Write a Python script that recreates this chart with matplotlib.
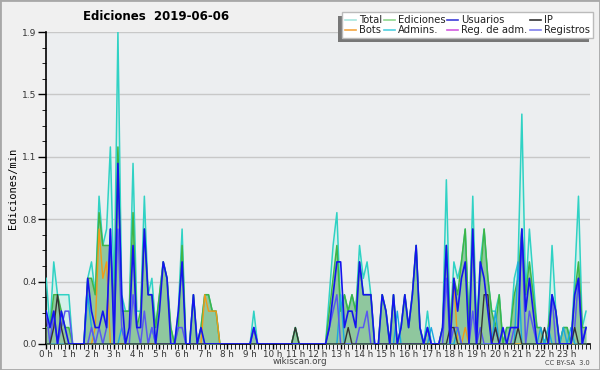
import numpy as np
import matplotlib
matplotlib.use("Agg")
import matplotlib.pyplot as plt
from matplotlib.lines import Line2D
from matplotlib.patches import Rectangle
from matplotlib.ticker import FixedLocator, MultipleLocator

# ediciones por tramo de 10 min (se divide entre 10 -> ediciones/min)
total = [4, 1, 5, 3, 3, 3,   3, 0, 0, 0, 0, 4,   5, 3, 9, 6, 7, 12,  3, 19, 3, 2, 2, 11,
         2, 2, 9, 3, 4, 1,   3, 5, 4, 1, 0, 2,   7, 0, 0, 3, 0, 1,   3, 3, 2, 2, 0, 0,
         0, 0, 0, 0, 0, 0,   0, 2, 0, 0, 0, 0,   0, 0, 0, 0, 0, 0,   1, 0, 0, 0, 0, 0,
         0, 0, 0, 3, 6, 8,   2, 3, 2, 3, 2, 6,   4, 5, 3, 0, 0, 3,   2, 0, 3, 0, 1, 3,
         1, 3, 6, 1, 0, 2,   0, 0, 0, 1, 10, 1,  5, 4, 5, 7, 1, 9,   1, 5, 7, 4, 2, 2,
         3, 0, 1, 1, 4, 5,   14, 3, 7, 4, 1, 1,  0, 1, 6, 2, 0, 1,   1, 0, 4, 9, 1, 2]
ediciones = [1, 1, 3, 3, 2, 1,   1, 0, 0, 0, 0, 4,   4, 3, 8, 6, 6, 6,   2, 12, 2, 2, 2, 8,
             1, 2, 7, 3, 3, 1,   3, 5, 4, 1, 0, 1,   6, 0, 0, 3, 0, 1,   3, 3, 2, 2, 0, 0,
             0, 0, 0, 0, 0, 0,   0, 1, 0, 0, 0, 0,   0, 0, 0, 0, 0, 0,   1, 0, 0, 0, 0, 0,
             0, 0, 0, 2, 4, 6,   2, 3, 2, 3, 2, 5,   3, 3, 3, 0, 0, 3,   2, 0, 3, 0, 1, 3,
             1, 3, 6, 1, 0, 1,   0, 0, 0, 1, 6, 1,   4, 3, 5, 7, 1, 7,   1, 4, 7, 4, 2, 1,
             3, 0, 1, 1, 3, 4,   7, 3, 5, 3, 1, 1,   0, 1, 3, 2, 0, 1,   1, 0, 3, 5, 1, 1]
usuarios = [2, 1, 2, 0, 2, 1,   0, 0, 0, 0, 0, 4,   2, 1, 1, 2, 1, 7,   0, 11, 3, 0, 1, 6,
            1, 1, 7, 3, 3, 0,   2, 5, 4, 0, 0, 2,   5, 0, 0, 3, 0, 1,   0, 0, 0, 0, 0, 0,
            0, 0, 0, 0, 0, 0,   0, 1, 0, 0, 0, 0,   0, 0, 0, 0, 0, 0,   0, 0, 0, 0, 0, 0,
            0, 0, 0, 1, 3, 5,   5, 1, 2, 2, 1, 5,   3, 3, 3, 0, 0, 3,   2, 0, 3, 0, 1, 3,
            1, 3, 6, 1, 0, 1,   0, 0, 0, 1, 6, 0,   4, 2, 4, 5, 0, 7,   0, 5, 4, 2, 0, 0,
            0, 1, 0, 1, 1, 1,   7, 2, 4, 2, 0, 0,   0, 0, 3, 2, 0, 0,   0, 0, 3, 4, 0, 1]
registros = [2, 0, 2, 0, 1, 2,   2, 0, 0, 0, 0, 0,   1, 0, 1, 0, 1, 7,   1, 7, 1, 0, 0, 3,
             1, 0, 2, 0, 1, 0,   0, 0, 0, 0, 0, 1,   1, 0, 0, 0, 0, 0,   0, 0, 0, 0, 0, 0,
             0, 0, 0, 0, 0, 0,   0, 1, 0, 0, 0, 0,   0, 0, 0, 0, 0, 0,   0, 0, 0, 0, 0, 0,
             0, 0, 0, 1, 2, 3,   0, 0, 0, 0, 0, 1,   1, 2, 0, 0, 0, 0,   0, 0, 0, 0, 0, 0,
             0, 0, 0, 0, 0, 1,   0, 0, 0, 0, 4, 0,   1, 1, 0, 0, 0, 2,   0, 1, 0, 0, 0, 1,
             0, 0, 0, 0, 1, 1,   7, 0, 2, 1, 0, 0,   0, 0, 3, 0, 0, 0,   0, 0, 1, 4, 0, 1]
ip = [0, 0, 1, 3, 1, 0,   0, 0, 0, 0, 0, 0,   0, 0, 0, 0, 0, 0,   0, 0, 0, 0, 0, 0,
      0, 0, 0, 0, 0, 0,   0, 0, 0, 0, 0, 0,   0, 0, 0, 0, 0, 0,   0, 0, 0, 0, 0, 0,
      0, 0, 0, 0, 0, 0,   0, 0, 0, 0, 0, 0,   0, 0, 0, 0, 0, 0,   1, 0, 0, 0, 0, 0,
      0, 0, 0, 0, 0, 0,   0, 0, 1, 0, 0, 0,   0, 0, 0, 0, 0, 0,   0, 0, 0, 0, 0, 0,
      0, 0, 0, 0, 0, 0,   0, 0, 0, 0, 0, 1,   1, 0, 0, 0, 0, 0,   0, 0, 3, 3, 0, 1,
      0, 0, 0, 0, 0, 1,   0, 0, 0, 0, 0, 0,   1, 0, 0, 0, 0, 0,   0, 0, 1, 0, 0, 0]
bots = [0, 0, 0, 0, 0, 0,   0, 0, 0, 0, 0, 0,   0, 1, 7, 4, 5, 0,   0, 0, 0, 0, 0, 0,
        0, 0, 0, 0, 0, 0,   0, 0, 0, 0, 0, 0,   0, 0, 0, 0, 0, 0,   3, 2, 2, 2, 0, 0,
        0, 0, 0, 0, 0, 0,   0, 0, 0, 0, 0, 0,   0, 0, 0, 0, 0, 0,   0, 0, 0, 0, 0, 0,
        0, 0, 0, 0, 0, 0,   0, 0, 0, 0, 0, 0,   0, 0, 0, 0, 0, 0,   0, 0, 0, 0, 0, 0,
        0, 0, 0, 0, 0, 0,   0, 0, 0, 0, 0, 0,   4, 0, 0, 1, 0, 0,   0, 0, 0, 0, 0, 0,
        0, 0, 0, 0, 0, 0,   0, 0, 0, 0, 0, 0,   0, 0, 0, 0, 0, 0,   0, 0, 0, 0, 0, 0]
admins = [0, 0, 0, 0, 0, 0,   0, 0, 0, 0, 0, 3,   1, 0, 0, 0, 0, 0,   0, 0, 1, 0, 0, 0,
          0, 0, 0, 0, 1, 0,   0, 0, 0, 0, 0, 0,   0, 0, 0, 0, 0, 0,   0, 0, 0, 0, 0, 0,
          0, 0, 0, 0, 0, 0,   0, 0, 0, 0, 0, 0,   0, 0, 0, 0, 0, 0,   0, 0, 0, 0, 0, 0,
          0, 0, 0, 0, 0, 0,   3, 0, 0, 0, 0, 0,   0, 0, 0, 0, 0, 0,   0, 0, 0, 2, 0, 0,
          0, 0, 0, 0, 0, 0,   1, 0, 0, 0, 0, 0,   0, 1, 0, 0, 0, 0,   0, 0, 0, 0, 0, 2,
          0, 0, 0, 0, 0, 5,   0, 0, 0, 0, 0, 1,   0, 1, 0, 0, 0, 1,   0, 1, 0, 0, 0, 0]

hours = np.arange(len(total)) / 6.0

def per_min(v):
    return np.array(v) / 10.0

fig = plt.figure(figsize=(6, 3.7), dpi=100, facecolor='#f0f0f0')
ax = fig.add_axes([0.077, 0.0703, 0.906, 0.8432])
ax.set_facecolor('#eceef0')

# marco exterior
fig.patches.append(Rectangle((0, 0), 1, 1, transform=fig.transFigure, fill=False,
                             edgecolor='#a8a8a8', linewidth=2))

ymax = 1.9
yticks = np.linspace(0, ymax, 6)
ax.yaxis.set_major_locator(FixedLocator(yticks))
ax.yaxis.set_minor_locator(FixedLocator(np.linspace(0, ymax, 21)))
ax.set_yticklabels([f"{v:.1f}" for v in yticks])
ax.grid(axis='y', color='#c8c8c8', linewidth=1)
ax.set_axisbelow(True)

ax.xaxis.set_minor_locator(MultipleLocator(1 / 6))
ax.set_xticks(range(24))
ax.set_xticklabels([f"{h} h" for h in range(24)])

ax.tick_params(axis='both', color='black', width=1)
ax.tick_params(axis='y', which='major', length=6, pad=1, labelsize=6.5, labelcolor='#333333')
ax.tick_params(axis='y', which='minor', length=3)
ax.tick_params(axis='x', which='major', length=3.5, pad=0.5, labelsize=6.3, labelcolor='#333333')
ax.tick_params(axis='x', which='minor', length=3.5)

for side in ('top', 'right'):
    ax.spines[side].set_visible(False)
ax.spines['left'].set_linewidth(1.2)
ax.spines['bottom'].set_linewidth(1.2)

t = per_min(total)
e = per_min(ediciones)
ax.fill_between(hours, t, color='#d3f1eb', alpha=0.9, linewidth=0, zorder=2)
ax.fill_between(hours, e, color='#8cc59a', alpha=0.95, linewidth=0, zorder=3)
ax.plot(hours, t, color='#30d2c4', linewidth=1.1, zorder=4)
ax.plot(hours, e, color='#3fb547', linewidth=1.1, zorder=5)
ax.plot(hours, per_min(bots), color='#f09a1a', linewidth=1.0, zorder=6)
ax.plot(hours, per_min(admins), color='#1aa8e0', linewidth=1.0, zorder=6)
ax.plot(hours, per_min(registros), color='#5858f0', linewidth=1.1, zorder=7)
ax.plot(hours, per_min(ip), color='#333333', linewidth=1.0, zorder=7)
ax.plot(hours, per_min(usuarios), color='#1414ee', linewidth=1.2, zorder=8)

ax.set_xlim(0, 24)
ax.set_ylim(0, ymax)

ax.set_ylabel('Ediciones/min', fontsize=7.5, family='DejaVu Sans Mono', labelpad=3)
fig.text(0.26, 0.955, 'Ediciones  2019-06-06', fontsize=8.5, fontweight='bold',
         ha='center', va='center')
fig.text(0.5, 0.022, 'wikiscan.org', fontsize=6.3, color='#444444', ha='center', va='center')
fig.text(0.983, 0.02, 'CC BY-SA  3.0', fontsize=4.8, color='#444444', ha='right', va='center')

# leyenda
labels = ['Total', 'Bots', 'Ediciones', 'Admins.', 'Usuarios', 'Reg. de adm.', 'IP', 'Registros']
colors = ['#a8e6df', '#f5a742', '#8fd88f', '#4fcfe0', '#3d3dd8', '#d35be0', '#333333', '#8080ee']
handles = [Line2D([0], [0], color=c, linewidth=1.2) for c in colors]
leg = fig.legend(handles, labels, ncol=4, loc='upper right', bbox_to_anchor=(0.996, 0.98),
                 fontsize=7.2, handlelength=1.1, handletextpad=0.3, columnspacing=0.2,
                 labelspacing=0.0, borderpad=0.3, fancybox=False, framealpha=1,
                 edgecolor='#bbbbbb', facecolor='white')
leg.get_frame().set_linewidth(1)
for txt in leg.get_texts():
    txt.set_color('#222222')
leg.set_zorder(20)
fig.canvas.draw()
bb = leg.get_window_extent().transformed(fig.transFigure.inverted())
fig.patches.append(Rectangle((bb.x0 - 0.006, bb.y0 - 0.01), bb.width, bb.height,
                             transform=fig.transFigure, facecolor='#777777',
                             edgecolor='none', zorder=19))

fig.savefig('out.png', dpi=100, facecolor=fig.get_facecolor())
